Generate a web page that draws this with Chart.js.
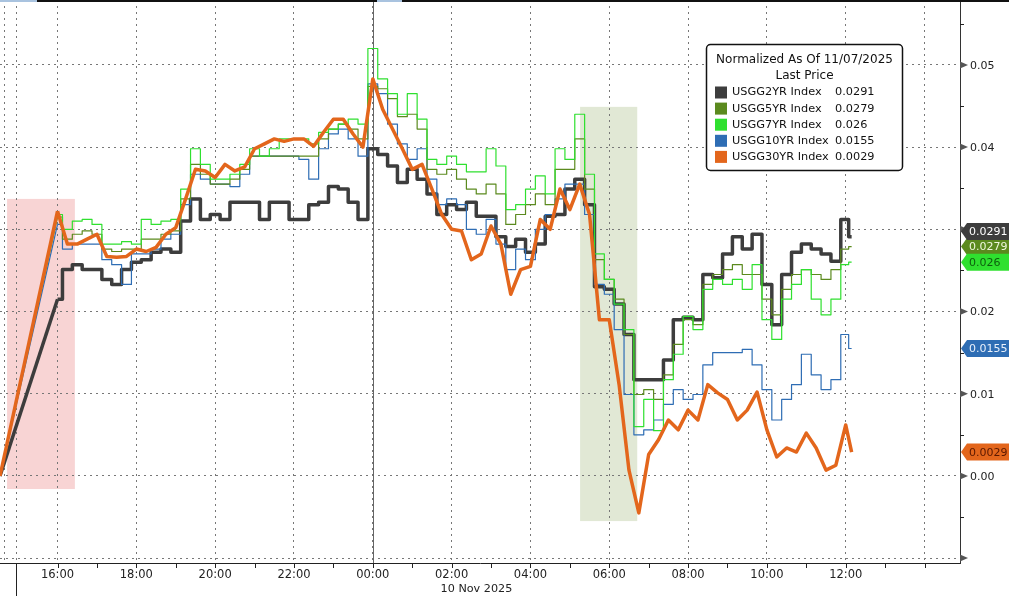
<!DOCTYPE html>
<html>
<head>
<meta charset="utf-8">
<script src="https://cdn.jsdelivr.net/npm/chart.js@4.4.1/dist/chart.umd.min.js"></script>
<style>
  html, body { margin: 0; padding: 0; background: #fff; overflow: hidden; }
  canvas { display: block; }
</style>
</head>
<body>
<canvas id="c" width="1009" height="596"></canvas>
<script>
// x = hours after 16:00 (9 Nov); first point is the 7 Nov close (all normalized to 0)
const times = [-1.46];
for (let k = 0; k <= 80; k++) times.push(k * 0.25);
times.push(20.15);

const usgg2 = [0,
  0.0215, 0.0251, 0.0257, 0.0251, 0.0251, 0.0239, 0.0233, 0.0251, 0.0260, 0.0263,
  0.0272, 0.0276, 0.0272, 0.0310, 0.0337, 0.0312, 0.0318, 0.0312, 0.0333, 0.0333,
  0.0333, 0.0312, 0.0333, 0.0333, 0.0312, 0.0312, 0.0330, 0.0333, 0.0352, 0.0349,
  0.0333, 0.0312, 0.0398, 0.0391, 0.0377, 0.0357, 0.0373, 0.0361, 0.0343, 0.0318,
  0.0330, 0.0324, 0.0333, 0.0316, 0.0316, 0.0291, 0.0279, 0.0288, 0.0272, 0.0282,
  0.0316, 0.0318, 0.0349, 0.0361, 0.0330, 0.0230, 0.0227, 0.0209, 0.0172, 0.0117,
  0.0117, 0.0117, 0.0141, 0.0190, 0.0193, 0.0190, 0.0245, 0.0241, 0.0270, 0.0291,
  0.0276, 0.0294, 0.0233, 0.0184, 0.0245, 0.0272, 0.0282, 0.0276, 0.0270, 0.0261,
  0.0312, 0.0291];

const usgg5 = [0,
  0.0315, 0.0288, 0.0294, 0.0298, 0.0294, 0.0276, 0.0273, 0.0276, 0.0276, 0.0288,
  0.0288, 0.0294, 0.0298, 0.0337, 0.0379, 0.0367, 0.0355, 0.0355, 0.0361, 0.0373,
  0.0389, 0.0389, 0.0389, 0.0389, 0.0389, 0.0389, 0.0389, 0.0410, 0.0422, 0.0428,
  0.0422, 0.0410, 0.0474, 0.0471, 0.0459, 0.0437, 0.0440, 0.0422, 0.0373, 0.0367,
  0.0373, 0.0361, 0.0349, 0.0343, 0.0355, 0.0343, 0.0306, 0.0318, 0.0330, 0.0343,
  0.0330, 0.0373, 0.0373, 0.0410, 0.0349, 0.0263, 0.0239, 0.0215, 0.0172, 0.0099,
  0.0105, 0.0093, 0.0123, 0.0160, 0.0190, 0.0184, 0.0233, 0.0245, 0.0251, 0.0257,
  0.0245, 0.0245, 0.0215, 0.0196, 0.0227, 0.0245, 0.0251, 0.0245, 0.0239, 0.0251,
  0.0276, 0.0279];

const usgg7 = [0,
  0.0318, 0.0300, 0.0310, 0.0312, 0.0306, 0.0282, 0.0282, 0.0285, 0.0282, 0.0312,
  0.0306, 0.0310, 0.0312, 0.0349, 0.0398, 0.0379, 0.0361, 0.0361, 0.0367, 0.0379,
  0.0398, 0.0389, 0.0398, 0.0410, 0.0410, 0.0410, 0.0404, 0.0418, 0.0422, 0.0428,
  0.0434, 0.0428, 0.0520, 0.0483, 0.0465, 0.0440, 0.0465, 0.0434, 0.0385, 0.0379,
  0.0389, 0.0379, 0.0370, 0.0370, 0.0398, 0.0377, 0.0324, 0.0330, 0.0349, 0.0365,
  0.0343, 0.0398, 0.0385, 0.0440, 0.0367, 0.0270, 0.0239, 0.0209, 0.0178, 0.0060,
  0.0093, 0.0055, 0.0117, 0.0148, 0.0194, 0.0178, 0.0227, 0.0239, 0.0233, 0.0239,
  0.0227, 0.0257, 0.0190, 0.0166, 0.0215, 0.0233, 0.0251, 0.0215, 0.0196, 0.0215,
  0.0257, 0.0260];

const usgg10 = [0,
  0.0306, 0.0276, 0.0282, 0.0282, 0.0282, 0.0263, 0.0257, 0.0233, 0.0270, 0.0270,
  0.0276, 0.0288, 0.0294, 0.0330, 0.0367, 0.0361, 0.0355, 0.0355, 0.0352, 0.0367,
  0.0389, 0.0389, 0.0389, 0.0389, 0.0389, 0.0385, 0.0361, 0.0398, 0.0416, 0.0422,
  0.0410, 0.0389, 0.0477, 0.0465, 0.0428, 0.0404, 0.0385, 0.0398, 0.0361, 0.0330,
  0.0337, 0.0330, 0.0300, 0.0294, 0.0312, 0.0282, 0.0251, 0.0276, 0.0263, 0.0300,
  0.0318, 0.0337, 0.0355, 0.0355, 0.0318, 0.0233, 0.0221, 0.0178, 0.0099, 0.0050,
  0.0056, 0.0068, 0.0087, 0.0105, 0.0093, 0.0099, 0.0135, 0.0150, 0.0150, 0.0150,
  0.0154, 0.0135, 0.0105, 0.0068, 0.0093, 0.0111, 0.0148, 0.0123, 0.0105, 0.0117,
  0.0172, 0.0155];

const usgg30 = [0,
  0.0322, 0.0282, 0.0282, 0.0288, 0.0294, 0.0267, 0.0266, 0.0267, 0.0276, 0.0273,
  0.0278, 0.0294, 0.0302, 0.0337, 0.0373, 0.0371, 0.0363, 0.0379, 0.0371, 0.0376,
  0.0398, 0.0404, 0.0410, 0.0407, 0.0410, 0.0410, 0.0401, 0.0418, 0.0434, 0.0434,
  0.0416, 0.0400, 0.0483, 0.0446, 0.0422, 0.0398, 0.0373, 0.0379, 0.0349, 0.0318,
  0.0300, 0.0298, 0.0263, 0.0270, 0.0304, 0.0282, 0.0221, 0.0251, 0.0255, 0.0312,
  0.0300, 0.0349, 0.0324, 0.0355, 0.0318, 0.0190, 0.0190, 0.0111, 0.0007, -0.0045,
  0.0026, 0.0044, 0.0068, 0.0056, 0.0080, 0.0068, 0.0111, 0.0101, 0.0093, 0.0068,
  0.0080, 0.0102, 0.0056, 0.0023, 0.0034, 0.0029, 0.0052, 0.0034, 0.0007, 0.0013,
  0.0062, 0.0029];

const hourTicks = [0, 2, 4, 6, 8, 10, 12, 14, 16, 18, 20, 22];
const yTicks = [-0.01, 0, 0.01, 0.02, 0.03, 0.04, 0.05];
// shaded windows: [x from, x to, y from, y to]
const shadeSpans = [[-1.28, 0.44, -0.0016, 0.0337], [13.26, 14.71, -0.0055, 0.0449]];
const shadeColors = ['#f8d4d4', '#e1e8d5'];

const FONT = 'DejaVu Sans';

const series = [
  { label: 'USGG2YR Index',  data: usgg2,  color: '#3d3d3d', width: 3.5, step: 'middle', txt: '#ffffff', order: 4 },
  { label: 'USGG5YR Index',  data: usgg5,  color: '#5b8a1e', width: 1.2, step: 'middle', txt: '#eef6dc', order: 2 },
  { label: 'USGG7YR Index',  data: usgg7,  color: '#2fe02f', width: 1.2, step: 'middle', txt: '#0d5e0d', order: 1 },
  { label: 'USGG10YR Index', data: usgg10, color: '#2e6db4', width: 1.2, step: 'middle', txt: '#e8f0fb', order: 3 },
  { label: 'USGG30YR Index', data: usgg30, color: '#e3661c', width: 3.5, step: false,    txt: '#5a1800', order: 0 },
];

const datasets = [];
series.forEach(s => {
  const pts = times.map((t, i) => ({ x: t, y: s.data[i] }));
  const base = { borderColor: s.color, borderWidth: s.width, pointRadius: 0, order: s.order,
                 borderJoinStyle: 'round', fill: false };
  datasets.push({ ...base, label: s.label, data: pts.slice(1), stepped: s.step });
  // the weekend jump from the 7 Nov close
  datasets.push({ ...base, label: '', data: pts.slice(0, 2) });
});

function fmtLast(v) { return String(Number(v.toFixed(4))); }

const decor = {
  id: 'decor',
  beforeDraw(chart) {
    const { ctx, scales: { x, y } } = chart;
    ctx.save();
    ctx.fillStyle = '#fff';
    ctx.fillRect(0, 0, chart.width, chart.height);
    shadeSpans.forEach((s, i) => {
      const l = x.getPixelForValue(s[0]), r = x.getPixelForValue(s[1]);
      const t = y.getPixelForValue(s[3]), b = y.getPixelForValue(s[2]);
      ctx.fillStyle = shadeColors[i];
      ctx.fillRect(l, t, r - l, b - t);
    });
    ctx.restore();
  },
  beforeDatasetsDraw(chart) {
    const { ctx, chartArea: a, scales: { x } } = chart;
    ctx.save();
    // midnight divider
    const mx = Math.round(x.getPixelForValue(8)) + 0.5;
    ctx.strokeStyle = '#666'; ctx.lineWidth = 1;
    ctx.beginPath(); ctx.moveTo(mx, a.top); ctx.lineTo(mx, a.bottom); ctx.stroke();
    // left session lines
    ctx.setLineDash([2, 4]); ctx.strokeStyle = '#777';
    [-1.36, -1.05].forEach(h => {
      const px = Math.round(x.getPixelForValue(h)) + 0.5;
      ctx.beginPath(); ctx.moveTo(px, a.top); ctx.lineTo(px, a.bottom); ctx.stroke();
    });
    ctx.restore();
  },
  afterDraw(chart) {
    const { ctx, chartArea: a, scales: { x, y } } = chart;
    ctx.save();
    // top strip
    ctx.fillStyle = '#111'; ctx.fillRect(0, 0, chart.width, 2);
    ctx.fillStyle = '#a9c3df'; ctx.fillRect(0, 0, 37, 2); ctx.fillRect(377, 0, 25, 2);

    // x ticks every hour
    ctx.strokeStyle = '#222'; ctx.lineWidth = 1;
    for (let h = 0; h <= 22; h++) {
      const px = Math.round(x.getPixelForValue(h)) + 0.5;
      ctx.beginPath(); ctx.moveTo(px, a.bottom); ctx.lineTo(px, a.bottom + 5); ctx.stroke();
    }
    const sx = Math.round(x.getPixelForValue(-1.05)) + 0.5;
    ctx.beginPath(); ctx.moveTo(sx, a.bottom); ctx.lineTo(sx, chart.height); ctx.stroke();

    // y minor ticks, major arrows and labels
    for (let v = -0.005; v < 0.058; v += 0.01) {
      const py = Math.round(y.getPixelForValue(v)) + 0.5;
      ctx.beginPath(); ctx.moveTo(a.right, py); ctx.lineTo(a.right + 4, py); ctx.stroke();
    }
    ctx.font = '11px ' + FONT; ctx.textBaseline = 'middle'; ctx.textAlign = 'left';
    yTicks.forEach(v => {
      const py = y.getPixelForValue(v);
      ctx.fillStyle = '#555';
      ctx.beginPath(); ctx.moveTo(a.right, py - 3.5); ctx.lineTo(a.right + 8, py); ctx.lineTo(a.right, py + 3.5);
      ctx.closePath(); ctx.fill();
      if (v >= 0) { ctx.fillStyle = '#222'; ctx.fillText(v.toFixed(2), a.right + 10, py + 1); }
    });

    // date under the axis
    ctx.fillStyle = '#222'; ctx.font = '11.2px ' + FONT;
    ctx.fillText('10 Nov 2025', x.getPixelForValue(9.72), 589);

    // last-value tags on the right axis
    const tags = series.map(s => ({ s, py: y.getPixelForValue(s.data[s.data.length - 1]) }));
    const sorted = tags.slice().sort((p, q) => q.py - p.py);
    for (let i = 1; i < sorted.length; i++) sorted[i].py = Math.min(sorted[i].py, sorted[i - 1].py - 15);
    const drawOrder = [1, 0, 2, 3, 4];
    ctx.font = '11px ' + FONT;
    drawOrder.forEach(i => {
      const t = tags[i], yy = t.py, h = 17, x0 = a.right + 1;
      ctx.fillStyle = t.s.color;
      ctx.beginPath();
      ctx.moveTo(x0, yy);
      ctx.lineTo(x0 + 6, yy - h / 2);
      ctx.lineTo(chart.width, yy - h / 2);
      ctx.lineTo(chart.width, yy + h / 2);
      ctx.lineTo(x0 + 6, yy + h / 2);
      ctx.closePath(); ctx.fill();
      ctx.fillStyle = t.s.txt;
      ctx.fillText(fmtLast(t.s.data[t.s.data.length - 1]), x0 + 8, yy + 1);
    });

    // legend box
    const lx = 706.5, ly = 44.5, lw = 196, lh = 126;
    ctx.fillStyle = '#fff'; ctx.strokeStyle = '#111'; ctx.lineWidth = 1.5;
    ctx.beginPath(); ctx.roundRect(lx, ly, lw, lh, 4); ctx.fill(); ctx.stroke();
    ctx.fillStyle = '#111'; ctx.font = '12px ' + FONT; ctx.textAlign = 'center';
    ctx.fillText('Normalized As Of 11/07/2025', lx + lw / 2, 60);
    ctx.fillText('Last Price', lx + lw / 2, 76);
    ctx.textAlign = 'left'; ctx.font = '11.3px ' + FONT;
    series.forEach((s, i) => {
      const ry = 92.5 + i * 16.1;
      ctx.fillStyle = s.color; ctx.fillRect(715, ry - 6, 12, 12);
      ctx.fillStyle = '#111';
      ctx.fillText(s.label, 732, ry);
      ctx.fillText(fmtLast(s.data[s.data.length - 1]), 835, ry);
    });
    ctx.restore();
  }
};

Chart.defaults.color = '#222';
Chart.defaults.font.family = FONT;

new Chart(document.getElementById('c'), {
  type: 'line',
  data: { datasets },
  options: {
    responsive: false,
    animation: false,
    events: [],
    layout: { padding: 0 },
    plugins: { legend: { display: false }, tooltip: { enabled: false } },
    scales: {
      x: {
        type: 'linear', min: -1.46, max: 22.9,
        afterBuildTicks: s => { s.ticks = hourTicks.map(v => ({ value: v })); },
        afterFit: s => { s.height = 33; },
        grid: { color: '#777', lineWidth: 1, drawTicks: false },
        border: { display: true, color: '#222', width: 1, dash: [2, 4] },
        ticks: {
          padding: 5, color: '#222', maxRotation: 0, autoSkip: false,
          font: { family: FONT, size: 11.5 },
          callback: v => v > 20 ? '' : String((16 + v) % 24).padStart(2, '0') + ':00'
        }
      },
      y: {
        type: 'linear', position: 'right', min: -0.0106, max: 0.0579,
        afterBuildTicks: s => { s.ticks = yTicks.map(v => ({ value: v })); },
        afterFit: s => { s.width = 49; },
        grid: { color: '#777', lineWidth: 1, drawTicks: false },
        border: { display: true, color: '#333', width: 1, dash: [2, 4] },
        ticks: { display: false }
      }
    }
  },
  plugins: [decor]
});
</script>
</body>
</html>
